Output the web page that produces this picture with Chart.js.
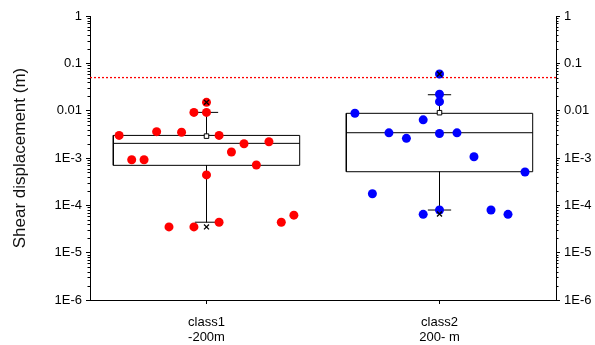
<!DOCTYPE html>
<html>
<head>
<meta charset="utf-8">
<script src="https://cdn.jsdelivr.net/npm/chart.js@4.4.1/dist/chart.umd.min.js"></script>
<style>
  html, body { margin: 0; padding: 0; background: #fff; }
  #wrap { width: 595px; height: 345px; }
</style>
</head>
<body>
<div id="wrap"><canvas id="boxChart"></canvas></div>
<script>
// categories and tick labels
const categories = [["class1", "-200m"], ["class2", "200- m"]];
const catPos = [0.5, 1.5];
const yTickValues = [1e-6, 1e-5, 1e-4, 1e-3, 0.01, 0.1, 1];
const yTickLabels = ["1E-6", "1E-5", "1E-4", "1E-3", "0.01", "0.1", "1"];
const limitValue = 0.05;

// class1 points (jitter offset from category centre, value)
const class1Offset = [-0.375, -0.214, -0.107, -0.321, -0.268, -0.054, 0, 0, 0.054, 0.107, 0.161, 0.268, 0.214, 0, -0.161, -0.054, 0.054, 0.321, 0.375];
const class1Values = [0.0030, 0.0036, 0.0035, 0.00092, 0.00092, 0.0092, 0.0092, 0.0150, 0.0030, 0.00134, 0.0020, 0.0022, 0.00071, 0.00044, 0.000035, 0.000035, 0.000044, 0.000044, 0.000062];

// class2 points
const class2Offset = [-0.363, -0.288, -0.217, -0.142, -0.070, -0.070, 0, 0, 0, 0, 0, 0.075, 0.148, 0.221, 0.294, 0.367];
const class2Values = [0.0088, 0.000176, 0.0034, 0.0026, 0.0064, 0.0000646, 0.0595, 0.0222, 0.0155, 0.0033, 0.0000796, 0.0034, 0.00106, 0.0000796, 0.0000646, 0.000506];

// box statistics per class
const whiskLow  = [0.000044, 0.0000796];
const q1        = [0.00070, 0.000513];
const median    = [0.00204, 0.00342];
const q3        = [0.0030, 0.00879];
const whiskHigh = [0.0092, 0.0217];
const meanVal   = [0.0029, 0.00906];
const minVal    = [0.000035, 0.0000656];
const maxVal    = [0.0150, 0.0595];

const BOX_HALF = 0.4;
const CAP_HALF = 0.05;
const FONT = "'Liberation Sans', Arial, sans-serif";

// outline of one box with whiskers, segments split by gaps
function boxOutline(i) {
    const c = catPos[i];
    const gap = { x: c, y: null };
    return [
        { x: c - BOX_HALF, y: q1[i] }, { x: c + BOX_HALF, y: q1[i] },
        { x: c + BOX_HALF, y: q3[i] }, { x: c - BOX_HALF, y: q3[i] },
        { x: c - BOX_HALF, y: q1[i] }, gap,
        { x: c - BOX_HALF, y: median[i] }, { x: c + BOX_HALF, y: median[i] }, gap,
        { x: c, y: q3[i] }, { x: c, y: whiskHigh[i] }, gap,
        { x: c - CAP_HALF, y: whiskHigh[i] }, { x: c + CAP_HALF, y: whiskHigh[i] }, gap,
        { x: c, y: q1[i] }, { x: c, y: whiskLow[i] }, gap,
        { x: c - CAP_HALF, y: whiskLow[i] }, { x: c + CAP_HALF, y: whiskLow[i] }
    ];
}

function points(i, offsets, values) {
    return values.map((v, k) => ({ x: catPos[i] + offsets[k], y: v }));
}

// small minor ticks on both log axes
const minorTicks = {
    id: "minorTicks",
    afterDraw(chart) {
        const ctx = chart.ctx;
        const y = chart.scales.y;
        const left = chart.chartArea.left;
        const right = chart.chartArea.right;
        ctx.save();
        ctx.strokeStyle = "#000";
        ctx.lineWidth = 1;
        ctx.beginPath();
        for (let d = -6; d < 0; d++) {
            for (let m = 2; m <= 9; m++) {
                const py = Math.round(y.getPixelForValue(m * Math.pow(10, d))) + 0.5;
                ctx.moveTo(left, py);
                ctx.lineTo(left - 2.5, py);
                ctx.moveTo(right, py);
                ctx.lineTo(right + 2.5, py);
            }
        }
        ctx.stroke();
        ctx.restore();
    }
};

const logAxis = (position, fitWidth) => ({
    type: "logarithmic",
    position: position,
    min: 1e-6,
    max: 1,
    afterBuildTicks: s => { s.ticks = yTickValues.map(v => ({ value: v, major: true })); },
    afterFit: s => { s.width = fitWidth; },
    border: { display: true, color: "#000", width: 1 },
    grid: { drawOnChartArea: false, tickLength: 4, tickColor: "#000", tickWidth: 1 },
    ticks: {
        color: "#000",
        padding: 4,
        font: { family: FONT, size: 13 },
        callback: v => {
            const k = yTickValues.findIndex(t => Math.abs(Math.log10(t) - Math.log10(v)) < 1e-6);
            return k >= 0 ? yTickLabels[k] : "";
        }
    }
});

const ctx = document.getElementById("boxChart").getContext("2d");
new Chart(ctx, {
    type: "scatter",
    data: {
        datasets: [
            {
                label: "limit",
                type: "line",
                data: [{ x: 0, y: limitValue }, { x: 2, y: limitValue }],
                borderColor: "#ff0000",
                borderWidth: 1.3,
                borderDash: [2, 2],
                pointRadius: 0,
                order: 5
            },
            {
                label: "box1",
                type: "line",
                data: boxOutline(0),
                borderColor: "#000",
                borderWidth: 1,
                pointRadius: 0,
                spanGaps: false,
                order: 4
            },
            {
                label: "box2",
                type: "line",
                data: boxOutline(1),
                borderColor: "#000",
                borderWidth: 1,
                pointRadius: 0,
                spanGaps: false,
                order: 4
            },
            {
                label: "class1",
                data: points(0, class1Offset, class1Values),
                backgroundColor: "#ff0000",
                borderWidth: 0,
                pointRadius: 4.5,
                order: 3
            },
            {
                label: "class2",
                data: points(1, class2Offset, class2Values),
                backgroundColor: "#0000ff",
                borderWidth: 0,
                pointRadius: 4.5,
                order: 3
            },
            {
                label: "mean",
                data: catPos.map((c, i) => ({ x: c, y: meanVal[i] })),
                pointStyle: "rect",
                pointRadius: 3.2,
                backgroundColor: "#fff",
                borderColor: "#000",
                borderWidth: 1,
                order: 1
            },
            {
                label: "extremes",
                data: catPos.flatMap((c, i) => [{ x: c, y: minVal[i] }, { x: c, y: maxVal[i] }]),
                pointStyle: "crossRot",
                pointRadius: 3.5,
                borderColor: "#000",
                borderWidth: 1.3,
                order: 0
            }
        ]
    },
    options: {
        responsive: true,
        maintainAspectRatio: false,
        animation: false,
        layout: { padding: { top: 16, left: 0, right: 0, bottom: 0 } },
        plugins: {
            legend: { display: false },
            tooltip: { enabled: false }
        },
        scales: {
            x: {
                type: "linear",
                min: 0,
                max: 2,
                afterBuildTicks: s => { s.ticks = catPos.map(v => ({ value: v })); },
                afterFit: s => { s.height = 45; },
                border: { display: true, color: "#000", width: 1 },
                grid: { drawOnChartArea: false, tickLength: 4, tickColor: "#000" },
                ticks: {
                    color: "#000",
                    padding: 11,
                    maxRotation: 0,
                    font: { family: FONT, size: 13, lineHeight: 1.15 },
                    callback: v => {
                        const k = catPos.indexOf(v);
                        return k >= 0 ? categories[k] : "";
                    }
                }
            },
            y: Object.assign(logAxis("left", 90), {
                title: {
                    display: true,
                    text: "Shear displacement (m)",
                    color: "#111",
                    font: { family: FONT, size: 17 },
                    padding: { top: 10, bottom: 0 }
                }
            }),
            y2: logAxis("right", 39)
        }
    },
    plugins: [minorTicks]
});
</script>
</body>
</html>
